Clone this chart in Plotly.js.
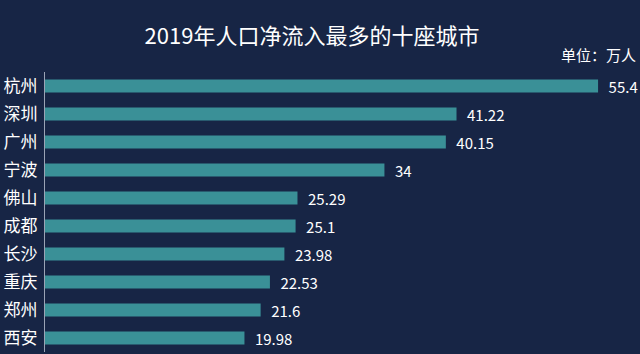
<!DOCTYPE html>
<html>
<head>
<meta charset="utf-8">
<script src="https://cdn.plot.ly/plotly-3.0.1.min.js"></script>
<style>html,body{margin:0;padding:0;background:#172545;}</style>
</head>
<body>
<div id="chart" style="width:640px;height:354px;"></div>
<script>
const cities = ["杭州","深圳","广州","宁波","佛山","成都","长沙","重庆","郑州","西安"];
const inflow = [55.4, 41.22, 40.15, 34, 25.29, 25.1, 23.98, 22.53, 21.6, 19.98];
const chartTitle = "2019年人口净流入最多的十座城市";
const unitLabel = "单位：万人";

const font = "'Noto Sans CJK SC', 'Noto Sans', sans-serif";

Plotly.newPlot("chart", [{
  type: "bar",
  orientation: "h",
  y: cities,
  x: inflow,
  width: 0.47,
  marker: {color: "#3a9097", line: {width: 0}},
  text: inflow.map(v => "\u2002" + v),
  textposition: "outside",
  constraintext: "none",
  textfont: {color: "#ffffff", size: 15, family: font},
  cliponaxis: false,
  hoverinfo: "none"
}], {
  width: 640, height: 354,
  paper_bgcolor: "#172545",
  plot_bgcolor: "#172545",
  margin: {l: 45, r: 0, t: 72, b: 2},
  title: {text: chartTitle, x: 0.4875, xanchor: "center", y: 0.898, yanchor: "middle",
          font: {color: "#ffffff", size: 22, family: font}},
  xaxis: {range: [0, 59.6], visible: false, fixedrange: true},
  yaxis: {autorange: "reversed", showgrid: false, zeroline: false,
          showline: true, linecolor: "#9aa3b5", linewidth: 1,
          ticks: "", ticklabelstandoff: 3,
          tickfont: {color: "#ffffff", size: 17, family: font}},
  showlegend: false,
  annotations: [{
    text: unitLabel, xref: "paper", yref: "paper", x: 1, y: 1,
    xanchor: "right", yanchor: "bottom", yshift: 5, xshift: -2, showarrow: false,
    font: {color: "#ffffff", size: 15, family: font}
  }]
}, {displayModeBar: false, staticPlot: true});
</script>
</body>
</html>
